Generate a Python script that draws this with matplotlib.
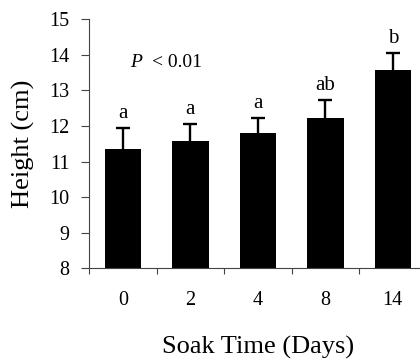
import matplotlib
matplotlib.use("Agg")
import matplotlib.pyplot as plt
import numpy as np

plt.rcParams['font.family'] = ['Liberation Serif', 'DejaVu Serif']

soak_days = ['0', '2', '4', '8', '14']
height_mean = [11.35, 11.58, 11.80, 12.21, 13.56]
height_err = [0.60, 0.48, 0.43, 0.53, 0.48]
sig_letters = ['a', 'a', 'a', 'ab', 'b']

fig = plt.figure(figsize=(4.2, 3.6), dpi=100)
ax = fig.add_axes([0.212, 0.2547, 0.8036, 0.692])

x = np.arange(len(soak_days))
# symmetric error bars sit behind the bars, so only the upper half shows
ax.errorbar(x, height_mean, yerr=height_err, fmt='none',
            ecolor='black', elinewidth=1.7, capsize=5, capthick=1.7, zorder=1)
ax.bar(x, height_mean, width=0.54, color='black', zorder=2)

for xi, m, e, s in zip(x, height_mean, height_err, sig_letters):
    ax.text(xi, m + e + 0.28, s, ha='center', va='baseline', fontsize=15)

ax.text(0.107, 13.66, 'P', style='italic', fontsize=14, va='baseline')
ax.text(0.433, 13.66, '< 0.01', fontsize=14, va='baseline')

ax.set_xlim(-0.5, 4.5)
ax.set_ylim(8, 15)
ax.set_yticks(range(8, 16))
ax.set_xticks(x)
ax.set_xticklabels(soak_days)
ax.set_xticks(np.arange(-0.5, 4.6, 1), minor=True)

ax.tick_params(axis='x', which='major', length=0, pad=16, labelsize=14.5)
ax.tick_params(axis='x', which='minor', length=4, width=0.8, color='#444444', direction='out')
ax.tick_params(axis='y', length=6, width=0.8, color='#444444', direction='out', labelsize=14.5, pad=8)

for side in ['top', 'right']:
    ax.spines[side].set_visible(False)
for side in ['left', 'bottom']:
    ax.spines[side].set_linewidth(0.8)
    ax.spines[side].set_color('#444444')

ax.set_xlabel('Soak Time (Days)', fontsize=19, labelpad=19)
ax.set_ylabel('Height (cm)', fontsize=19, labelpad=10)

fig.savefig('out.png', dpi=100)
